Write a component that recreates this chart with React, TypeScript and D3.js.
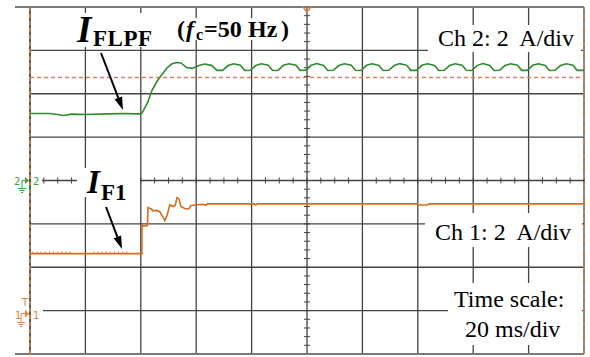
import React from "react";
import * as d3 from "d3";

// Screen geometry of the scope display
const W = 590;
const H = 357;

// Time base: 20 ms/div, 10 divisions, trigger at centre
const timeDomain: [number, number] = [-100, 100];
// Vertical: 8 divisions, 2 A/div on both channels
const divDomain: [number, number] = [-4, 4];
const ampsPerDiv = 2;
const ch2OffsetDiv = 0;
const ch1OffsetDiv = -3;

// Channel 2: filtered current I_FLPF (ms, A)
const ch2Times = [
  -100, -93, -90, -88, -85, -80, -72, -66, -62, -60,
  -59.5, -57.5, -56, -54, -52, -50.5, -48.7, -47, -45.5, -43.5, -41.5, -39, -37, -34.5,
  -32.5, -30.5, -28.5, -26.5, -24,
  -22.5, -20.5, -18.5, -16.5, -14,
  -12.5, -10.5, -8.5, -6.5, -4,
  -2.5, -0.5, 1.5, 3.5, 6,
  7.5, 9.5, 11.5, 13.5, 16,
  17.5, 19.5, 21.5, 23.5, 26,
  27.5, 29.5, 31.5, 33.5, 36,
  37.5, 39.5, 41.5, 43.5, 46,
  47.5, 49.5, 51.5, 53.5, 56,
  57.5, 59.5, 61.5, 63.5, 66,
  67.5, 69.5, 71.5, 73.5, 76,
  77.5, 79.5, 81.5, 83.5, 86,
  87.5, 89.5, 91.5, 93.5, 96,
  97.5, 100,
];
const ch2Amps = [
  3.09, 3.09, 3.04, 3.0, 3.06, 3.04, 3.07, 3.09, 3.07, 3.07,
  3.12, 3.6, 4.15, 4.6, 4.95, 5.2, 5.38, 5.44, 5.42, 5.21, 5.17, 5.3, 5.37, 5.31,
  5.08, 5.08, 5.3, 5.38, 5.31,
  5.07, 5.08, 5.3, 5.38, 5.32,
  5.08, 5.07, 5.31, 5.38, 5.31,
  5.08, 5.09, 5.31, 5.39, 5.3,
  5.07, 5.08, 5.3, 5.38, 5.31,
  5.08, 5.07, 5.31, 5.38, 5.3,
  5.07, 5.08, 5.3, 5.39, 5.31,
  5.08, 5.08, 5.31, 5.38, 5.3,
  5.07, 5.08, 5.3, 5.38, 5.31,
  5.08, 5.07, 5.31, 5.39, 5.3,
  5.07, 5.08, 5.3, 5.38, 5.31,
  5.08, 5.08, 5.31, 5.38, 5.3,
  5.07, 5.08, 5.3, 5.38, 5.31,
  5.08, 5.08,
];
// Dashed reference level on channel 2 (A)
const ch2Reference = 4.75;

// Channel 1: current I_F1 (ms, A)
const ch1Times = [
  -100, -59.6, -59.6, -58.1, -57.6, -57.4, -56.3, -55.6, -54.2, -53.1, -52.3,
  -51.3, -50.5, -49.5, -48.4, -47.6, -46.9, -46.2, -45.5, -44, -42.6, -41.9,
  -40, -37.5, -36.5, -36, -35.5, -19, -18.5, -18, 40, 40.5, 43.5, 44, 100,
];
const ch1Amps = [
  2.63, 2.63, 3.92, 3.9, 3.92, 4.75, 4.7, 4.6, 4.62, 4.55, 4.38,
  4.15, 4.4, 4.88, 4.8, 4.85, 5.21, 5.15, 4.8, 4.7, 4.7, 4.85,
  4.88, 4.9, 4.86, 4.92, 4.92, 4.92, 4.87, 4.92, 4.92, 4.87, 4.87, 4.92, 4.92,
];
// Small noise spikes on the channel 1 baseline (ms)
const ch1NoiseTimes = [
  -99, -97.5, -96, -94.5, -93, -91.5, -90, -88.5, -87, -85.5,
  -77, -75.5, -74, -72.5, -71, -69.5, -68, -66.5, -65,
];
const ch1NoiseLevel = 2.72;

// Annotation texts
const ch2Scale = "Ch 2: 2\u00A0 A/div";
const ch1Scale = "Ch 1: 2\u00A0 A/div";
const timeScaleLines = ["Time scale:", "20 ms/div"];

const GRID = "#434343";
const GREEN = "#2d8a2d";
const GREEN_MARK = "#3f9f3f";
const ORANGE = "#d46d22";
const ORANGE_MARK = "#e0843c";
const REF = "#e2786c";
const SERIF = "'Liberation Serif', 'Times New Roman', serif";
const SANS = "'DejaVu Sans', Arial, sans-serif";

const x = d3.scaleLinear().domain(timeDomain).range([30, 584]);
const y = d3.scaleLinear().domain(divDomain).range([354, 7]);

const toDiv = (amps: number, offset: number) => offset + amps / ampsPerDiv;

function tracePath(times: number[], amps: number[], offset: number) {
  const pts = times.map((t, i) => [t, amps[i]] as [number, number]);
  return d3
    .line<[number, number]>()
    .x((d) => x(d[0]))
    .y((d) => y(toDiv(d[1], offset)))(pts) as string;
}

function Arrow({ x1, y1, x2, y2 }: { x1: number; y1: number; x2: number; y2: number }) {
  const dx = x2 - x1;
  const dy = y2 - y1;
  const len = Math.hypot(dx, dy);
  const ux = dx / len;
  const uy = dy / len;
  const headL = 13;
  const headW = 4;
  const bx = x2 - ux * headL;
  const by = y2 - uy * headL;
  const pts = [
    [x2, y2],
    [bx - uy * headW, by + ux * headW],
    [bx + uy * headW, by - ux * headW],
  ];
  return (
    <g>
      <line x1={x1} y1={y1} x2={bx} y2={by} stroke="#000" strokeWidth={2} />
      <polygon points={pts.map((p) => p.join(",")).join(" ")} fill="#000" />
    </g>
  );
}

function Ground({ cx, top, color }: { cx: number; top: number; color: string }) {
  return (
    <g stroke={color} strokeWidth={1}>
      <line x1={cx} y1={top} x2={cx} y2={top + 3} />
      <line x1={cx - 4} y1={top + 3} x2={cx + 4} y2={top + 3} />
      <line x1={cx - 2.5} y1={top + 5} x2={cx + 2.5} y2={top + 5} />
      <line x1={cx - 1} y1={top + 7} x2={cx + 1} y2={top + 7} />
    </g>
  );
}

export default function App() {
  const xTicks = x.ticks(10);
  const yTicks = y.ticks(8);
  const xMinor = d3.range(timeDomain[0], timeDomain[1] + 0.01, 5);
  const yMinor = d3.range(divDomain[0], divDomain[1] + 0.01, 0.2);
  const x0 = x(0);
  const y0 = y(0);
  const yCh1Ground = y(ch1OffsetDiv);
  const yRef = y(toDiv(ch2Reference, ch2OffsetDiv));

  const masks = [
    [70, 13, 86, 34],
    [170, 18, 128, 22],
    [428, 25, 153, 27],
    [77, 168, 63, 29],
    [425, 213, 157, 34],
    [448, 283, 134, 62],
    [31, 172, 11, 16],
    [31, 303, 12, 15],
  ];

  return (
    <svg
      width={W}
      height={H}
      viewBox={`0 0 ${W} ${H}`}
      style={{ position: "absolute", left: 0, top: 0, background: "#fff" }}
    >
      <rect x={0} y={0} width={W} height={H} fill="#fff" />

      {/* graticule */}
      <g stroke={GRID} strokeWidth={1.3}>
        {xTicks.map((t) => (
          <line key={`v${t}`} x1={x(t)} x2={x(t)} y1={y(4)} y2={y(-4)} />
        ))}
        {yTicks
          .filter((d) => d !== 4 && d !== -4)
          .map((d) => (
            <line key={`h${d}`} x1={x(-100)} x2={x(100)} y1={y(d)} y2={y(d)} />
          ))}
        {xMinor.map((t) => (
          <line key={`xm${t}`} x1={x(t)} x2={x(t)} y1={y0 - 3} y2={y0 + 3} strokeWidth={1} />
        ))}
        {yMinor.map((d) => (
          <line key={`ym${d.toFixed(1)}`} x1={x0 - 3} x2={x0 + 3} y1={y(d)} y2={y(d)} strokeWidth={1} />
        ))}
      </g>
      <g stroke="#7a7a7a" strokeWidth={2}>
        <line x1={15} x2={x(100)} y1={y(4)} y2={y(4)} />
        <line x1={15} x2={x(100)} y1={y(-4)} y2={y(-4)} />
      </g>
      {/* left and right borders with dashed orange edge marks */}
      <g>
        <line x1={x(-100)} x2={x(-100)} y1={y(4)} y2={y(-4)} stroke={GRID} strokeWidth={1.3} />
        <line x1={x(-100)} x2={x(-100)} y1={y(4)} y2={y(-4)} stroke={ORANGE_MARK} strokeWidth={1.5} strokeDasharray="4,3" />
        <line x1={x(100)} x2={x(100)} y1={y(4)} y2={y(-4)} stroke={ORANGE_MARK} strokeWidth={1.3} strokeDasharray="4,3" />
      </g>

      {/* white label backgrounds */}
      {masks.map(([mx, my, mw, mh], i) => (
        <rect key={`m${i}`} x={mx} y={my} width={mw} height={mh} fill="#fff" />
      ))}

      {/* reference level */}
      <line x1={x(-100)} x2={x(100)} y1={yRef} y2={yRef} stroke={REF} strokeWidth={1.3} strokeDasharray="4,3" />

      {/* traces */}
      <path d={tracePath(ch2Times, ch2Amps, ch2OffsetDiv)} fill="none" stroke={GREEN} strokeWidth={1.6} />
      <path d={tracePath(ch1Times, ch1Amps, ch1OffsetDiv)} fill="none" stroke={ORANGE} strokeWidth={1.6} />
      <g stroke={ORANGE} strokeWidth={0.9}>
        {ch1NoiseTimes.map((t) => (
          <line
            key={`n${t}`}
            x1={x(t)}
            x2={x(t)}
            y1={y(toDiv(2.63, ch1OffsetDiv))}
            y2={y(toDiv(ch1NoiseLevel, ch1OffsetDiv))}
          />
        ))}
      </g>

      {/* trigger position marker */}
      <polyline
        points={`${x0 - 4},${y(4)} ${x0},${y(4) + 5} ${x0 + 4},${y(4)}`}
        fill="none"
        stroke={ORANGE_MARK}
        strokeWidth={1.5}
      />

      {/* channel 2 ground marker */}
      <g fill={GREEN_MARK} fontFamily={SANS} fontSize={10}>
        <text x={14} y={y0 + 4}>2</text>
        <text x={33} y={y0 + 4}>2</text>
        <polyline points={`${22},${y0 + 5} ${22},${y0} ${25},${y0}`} fill="none" stroke={GREEN_MARK} strokeWidth={1} />
        <polygon points={`${25},${y0 - 3.5} ${29},${y0} ${25},${y0 + 3.5}`} />
        <Ground cx={22} top={y0 + 5} color={GREEN_MARK} />
      </g>

      {/* channel 1 ground and trigger-level marker */}
      <g fill={ORANGE_MARK} fontFamily={SANS} fontSize={10}>
        <text x={22} y={yCh1Ground - 5}>T</text>
        <text x={15} y={yCh1Ground + 8}>1</text>
        <text x={33} y={yCh1Ground + 8}>1</text>
        <polyline points={`${21},${yCh1Ground + 9} ${21},${yCh1Ground + 3} ${25},${yCh1Ground + 3}`} fill="none" stroke={ORANGE_MARK} strokeWidth={1} />
        <polygon points={`${25},${yCh1Ground - 1} ${29},${yCh1Ground + 3} ${25},${yCh1Ground + 7}`} />
        <Ground cx={21} top={yCh1Ground + 9} color={ORANGE_MARK} />
      </g>

      {/* annotations */}
      <g fontFamily={SERIF} fill="#000">
        <text x={77} y={42} fontSize={37} fontWeight="bold" fontStyle="italic">I</text>
        <text x={93} y={46} fontSize={23} fontWeight="bold" letterSpacing={0.5}>FLPF</text>

        <g fontSize={24} fontWeight="bold">
          <text x={177} y={37}>(</text>
          <text x={186} y={37} fontStyle="italic">f</text>
          <text x={196} y={40} fontSize={16}>c</text>
          <text x={204} y={37}>=50</text>
          <text x={248} y={37}>Hz</text>
          <text x={281} y={37}>)</text>
        </g>

        <text x={87} y={193} fontSize={33} fontWeight="bold" fontStyle="italic">I</text>
        <text x={101} y={200} fontSize={23} fontWeight="bold">F1</text>

        <text x={438} y={46} fontSize={24}>{ch2Scale}</text>
        <text x={435} y={240} fontSize={24}>{ch1Scale}</text>
        <text x={454} y={307} fontSize={24}>{timeScaleLines[0]}</text>
        <text x={465} y={337} fontSize={24}>{timeScaleLines[1]}</text>
      </g>

      <Arrow x1={101} y1={53} x2={123} y2={110} />
      <Arrow x1={106} y1={207} x2={122} y2={249} />
    </svg>
  );
}
